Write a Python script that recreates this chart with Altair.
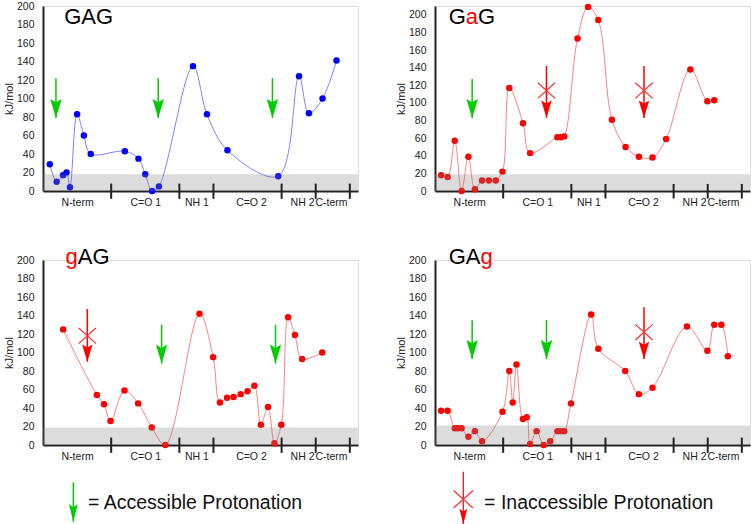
import altair as alt
import pandas as pd

# ---- shared axis layout -------------------------------------------------
SECTIONS = ["N-term", "C=O 1", "NH 1", "C=O 2", "NH 2", "C-term"]
SECTION_EDGES = [2, 4, 5, 7, 8, 9]
LABEL_POS = [1.0, 3.0, 4.5, 6.1, 7.6, 8.45]
Y_TICKS = list(range(0, 201, 20))
X_MAX = 9.24

PANEL_W, PANEL_H = 315, 185
PX_PER_UNIT = PANEL_W / X_MAX
FONT = "Liberation Sans"
GREEN = "#00cc00"
RED = "#ff0000"

# ---- energy profiles (kJ/mol) -------------------------------------------
gag_x = [0.20, 0.40, 0.59, 0.69, 0.79, 1.00, 1.20, 1.40, 2.40, 2.80, 3.00,
         3.20, 3.40, 4.40, 4.81, 5.41, 6.90, 7.51, 7.80, 8.20, 8.61]
gag_y = [29, 10, 17, 20, 4, 83, 60, 40, 43, 35, 18,
         0, 5, 135, 83, 44, 16, 124, 84, 100, 141]

gag2_x = [0.18, 0.37, 0.58, 0.78, 0.98, 1.17, 1.38, 1.58, 1.78, 1.98, 2.18,
          2.58, 2.79, 3.59, 3.69, 3.79, 4.18, 4.49, 4.79, 5.19, 5.59, 5.98,
          6.38, 6.78, 7.49, 7.99, 8.19]
gag2_y = [18, 16, 57, 0, 39, 2, 12, 12, 12, 22, 117,
          77, 43, 61, 61, 62, 173, 209, 194, 81, 50, 39,
          38, 59, 138, 102, 103]

gag3_x = [0.59, 1.58, 1.79, 1.98, 2.39, 2.79, 3.19, 3.59, 4.59, 4.99, 5.19,
          5.40, 5.59, 5.80, 6.00, 6.20, 6.39, 6.60, 6.79, 6.99, 7.19, 7.39,
          7.60, 8.19]
gag3_y = [125, 54, 44, 26, 59, 45, 19, 0, 142, 95, 46,
          51, 52, 55, 58, 64, 22, 41, 2, 22, 138, 119,
          93, 100]

gag4_x = [0.18, 0.37, 0.58, 0.67, 0.78, 0.98, 1.17, 1.38, 1.98, 2.18, 2.28,
          2.39, 2.58, 2.69, 2.79, 2.98, 3.19, 3.38, 3.59, 3.69, 3.79, 3.99,
          4.58, 4.79, 5.58, 5.98, 6.38, 7.39, 7.99, 8.19, 8.40, 8.59]
gag4_y = [37, 37, 18, 18, 18, 9, 15, 4, 36, 80, 46,
          87, 28, 30, 1, 15, 0, 4, 15, 15, 15, 45,
          141, 104, 80, 55, 62, 128, 102, 130, 130, 96]

# ---- protonation arrows: (x, shaft top, tip) / (x, shaft top, cross, tip)
gag_ok = [(0.38, 122, 79), (3.38, 122, 79), (6.73, 122, 79)]
gag_no = []
gag2_ok = [(1.09, 127, 83)]
gag2_no = [(3.27, 142, 114, 83), (6.13, 142, 114, 83)]
gag3_ok = [(3.48, 130, 88), (6.82, 130, 88)]
gag3_no = [(1.30, 147, 118, 90)]
gag4_ok = [(1.09, 135, 93), (3.27, 135, 93)]
gag4_no = [(6.13, 149, 122, 93)]

# arrow head with its tip at the symbol origin, cross drawn as two strokes
HEAD = "M0,0L-0.6,-2L0,-1.65L0.6,-2Z"
HEAD_NARROW = "M0,0L-0.5,-2L0,-1.65L0.5,-2Z"
CROSS = "M-1,-0.9L1,0.9M-1,0.9L1,-0.9"

GLYPH_EM = {"G": 0.778, "A": 0.667, "a": 0.556, "g": 0.556}
TITLE_SIZE = 22


def xenc(field):
    return alt.X(
        f"{field}:Q",
        scale=alt.Scale(domain=[0, X_MAX], nice=False, zero=False),
        axis=alt.Axis(
            values=LABEL_POS, ticks=False, grid=False, title=None,
            domainColor="#222", domainWidth=2,
            labelExpr=" : ".join(
                f"datum.value < {e} ? '{s}'" for s, e in zip(SECTIONS[:-1], SECTION_EDGES[:-1])
            ) + f" : '{SECTIONS[-1]}'",
            labelFont=FONT, labelFontSize=10.5, labelColor="#222",
            labelPadding=6, labelOverlap=False, labelFlush=False, labelBound=False,
        ),
    )


def yenc(field, ymax):
    return alt.Y(
        f"{field}:Q",
        scale=alt.Scale(domain=[0, ymax], nice=False, zero=False),
        axis=alt.Axis(
            values=Y_TICKS, ticks=False, grid=False, title="kJ/mol",
            domainColor="#222", domainWidth=2,
            labelFont=FONT, labelFontSize=10.5, labelColor="#222", labelPadding=9,
            titleFont=FONT, titleFontSize=11, titleFontWeight="normal",
            titleColor="#222", titlePadding=2,
        ),
    )


def panel(xs, ys, pt_color, ln_color, band_top, ymax, ok, no, title, tx, ty,
          legend=None):
    X = lambda f: xenc(f)
    Y = lambda f: yenc(f, ymax)
    prof = pd.DataFrame({"x": xs, "y": ys})

    line = alt.Chart(prof).mark_line(
        interpolate="catmull-rom", color=ln_color, strokeWidth=1
    ).encode(x=X("x"), y=Y("y"))
    dots = alt.Chart(prof).mark_circle(size=42, color=pt_color, opacity=1).encode(
        x=X("x"), y=Y("y"))

    band = alt.Chart(pd.DataFrame({"x": [0], "x2": [X_MAX], "y": [0], "y2": [band_top]})
                     ).mark_rect(color="#808080", opacity=0.28).encode(
        x=X("x"), x2="x2:Q", y=Y("y"), y2="y2:Q")

    seps = alt.Chart(pd.DataFrame({"x": SECTION_EDGES, "y": [-8.5] * 6, "y2": [8.0] * 6})
                     ).mark_rule(color="#222", strokeWidth=2).encode(
        x=X("x"), y=Y("y"), y2="y2:Q")

    layers = [line, dots, band, seps]

    arrows_ok = pd.DataFrame(ok, columns=["x", "top", "tip"]) if ok else None
    arrows_no = pd.DataFrame(no, columns=["x", "top", "cross", "tip"]) if no else None
    if legend is not None:
        kind, lx, ltop, lmid, ltip, tx_l, ty_l, text = legend
        if kind == "ok":
            leg_ok = pd.DataFrame([(lx, ltop, ltip)], columns=["x", "top", "tip"])
            layers += [
                alt.Chart(leg_ok).mark_rule(color=GREEN, strokeWidth=1.5).encode(
                    x=X("x"), y=Y("top"), y2="tip:Q"),
                alt.Chart(leg_ok).mark_point(shape=HEAD_NARROW, size=310, filled=True,
                                             color=GREEN, opacity=1).encode(
                    x=X("x"), y=Y("tip")),
            ]
        else:
            leg_no = pd.DataFrame([(lx, ltop, lmid, ltip)], columns=["x", "top", "cross", "tip"])
            layers += [
                alt.Chart(leg_no).mark_rule(color=RED, strokeWidth=1.2).encode(
                    x=X("x"), y=Y("top"), y2="tip:Q"),
                alt.Chart(leg_no).mark_point(shape=HEAD_NARROW, size=240, filled=True,
                                             color=RED, opacity=1).encode(
                    x=X("x"), y=Y("tip")),
                alt.Chart(leg_no).mark_point(shape=CROSS, size=380, filled=False,
                                             color="#ff3030", strokeWidth=1.2,
                                             opacity=1).encode(
                    x=X("x"), y=Y("cross")),
            ]
        layers.append(
            alt.Chart(pd.DataFrame({"x": [tx_l], "y": [ty_l], "t": [text]})).mark_text(
                align="left", baseline="alphabetic", font=FONT, fontSize=19.5,
                color="#111").encode(x=X("x"), y=Y("y"), text="t:N"))

    if arrows_ok is not None:
        layers += [
            alt.Chart(arrows_ok).mark_rule(color=GREEN, strokeWidth=1.5).encode(
                x=X("x"), y=Y("top"), y2="tip:Q"),
            alt.Chart(arrows_ok).mark_point(shape=HEAD, size=361, filled=True,
                                            color=GREEN, opacity=1).encode(
                x=X("x"), y=Y("tip")),
        ]
    if arrows_no is not None:
        layers += [
            alt.Chart(arrows_no).mark_rule(color=RED, strokeWidth=1.5).encode(
                x=X("x"), y=Y("top"), y2="tip:Q"),
            alt.Chart(arrows_no).mark_point(shape=HEAD, size=300, filled=True,
                                            color=RED, opacity=1).encode(
                x=X("x"), y=Y("tip")),
            alt.Chart(arrows_no).mark_point(shape=CROSS, size=300, filled=False,
                                            color="#ff3030", strokeWidth=1.2,
                                            opacity=1).encode(
                x=X("x"), y=Y("cross")),
        ]

    # title letters, lower-case ones in red
    rows, cursor = [], 0.0
    for ch in title:
        rows.append({"x": tx + cursor * TITLE_SIZE / PX_PER_UNIT, "y": ty, "t": ch,
                     "c": RED if ch.islower() else "#000000"})
        cursor += GLYPH_EM[ch]
    layers.append(
        alt.Chart(pd.DataFrame(rows)).mark_text(
            align="left", baseline="alphabetic", font=FONT, fontSize=TITLE_SIZE
        ).encode(x=X("x"), y=Y("y"), text="t:N", color=alt.Color("c:N", scale=None)))

    return alt.layer(*layers).properties(width=PANEL_W, height=PANEL_H)


BLUE, BLUE_LINE, RED_LINE = "#0000ff", "#8080ff", "#ff8080"

p1 = panel(gag_x, gag_y, BLUE, BLUE_LINE, 18, 200, gag_ok, gag_no, "GAG", 0.62, 180.5)
p2 = panel(gag2_x, gag2_y, RED, RED_LINE, 19, 210, gag2_ok, gag2_no, "GaG", 0.40, 190)
p3 = panel(gag3_x, gag3_y, RED, RED_LINE, 19, 200, gag3_ok, gag3_no, "gAG", 0.66, 196,
           legend=("ok", 0.89, -40.5, None, -83, 1.32, -69.4,
                   "= Accessible Protonation"))
p4 = panel(gag4_x, gag4_y, RED, RED_LINE, 21, 200, gag4_ok, gag4_no, "GAg", 0.40, 196,
           legend=("no", 0.83, -29, -58.6, -85.7, 1.44, -69.4,
                   "= Inaccessible Protonation"))

chart = alt.concat(
    p1, p2, p3, p4, columns=2, spacing={"row": 69, "column": 77}, bounds="flush"
).properties(
    padding={"left": 2, "top": 0, "right": 0, "bottom": 0}
).configure_view(stroke=None).configure(font=FONT)

chart.save("out.html", embed_options={"renderer": "svg", "actions": False})
